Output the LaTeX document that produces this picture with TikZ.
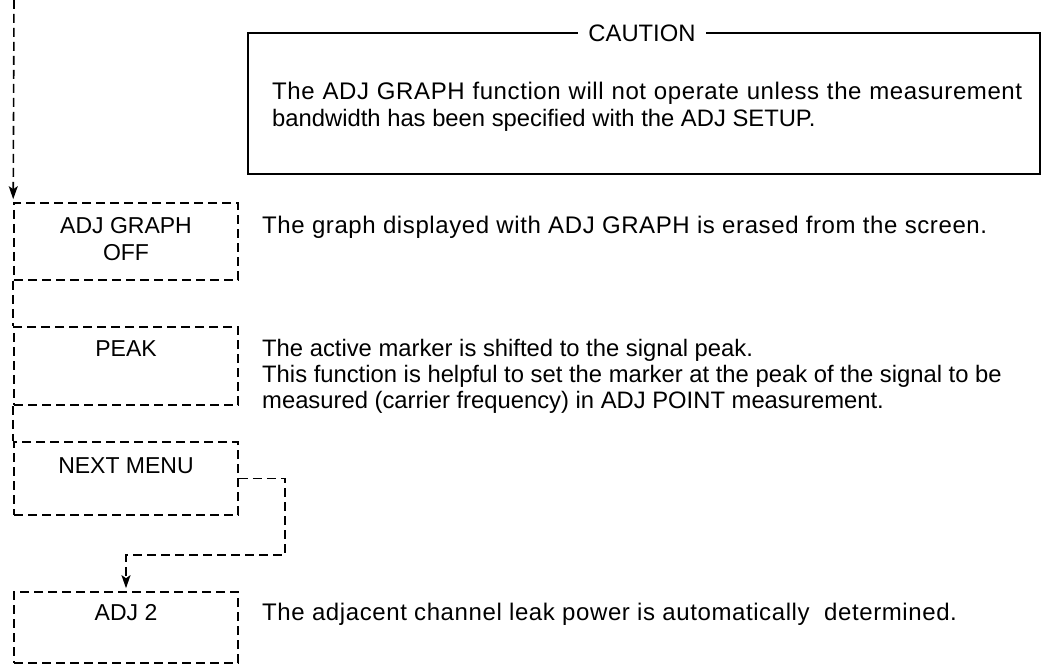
\documentclass[tikz,border=0pt]{standalone}
\usepackage{fontspec}
\setmainfont{Liberation Sans}
\newfontfamily\widefont[LetterSpace=2.5]{Liberation Sans}
\usetikzlibrary{arrows.meta}
\begin{document}
\begin{tikzpicture}[x=1pt,y=-1pt,
  fbox/.style={draw, dash pattern=on 9pt off 5pt, line width=1.6pt, minimum width=224pt, inner sep=0pt},
  cline/.style={draw, dash pattern=on 9pt off 5pt, line width=1.6pt},
  arr/.style={-{Stealth[length=13pt,width=9pt,inset=3pt]}},
  txt/.style={inner sep=0pt, font=\fontsize{23.8}{27}\selectfont},
  wtxt/.style={inner sep=0pt, font=\widefont\fontsize{24}{27}\selectfont},
  lbl/.style={inner sep=0pt, font=\fontsize{23}{27}\selectfont, align=center}]
\useasboundingbox (0,0) rectangle (1047,668);
% caution box
\draw[line width=1.6pt] (248,33) rectangle (1040,174);
\node[txt, fill=white, inner xsep=10pt, inner ysep=2pt] (caut) at (642,33) {CAUTION};
\node[wtxt, anchor=base west] (c1a) at (272,100)
  {\makebox[750pt][s]{The ADJ GRAPH function will not operate unless the measurement}};
\node[txt, anchor=base west] (c1b) at (272,127) {bandwidth has been specified with the ADJ SETUP.};
% boxes
\node[fbox, minimum height=77pt] (b1) at (126,241.5) {};
\node[fbox, minimum height=78pt] (b2) at (126,366) {};
\node[fbox, minimum height=73pt] (b3) at (126,478.5) {};
\node[fbox, minimum height=71pt] (b4) at (126,627.5) {};
% box labels
\node[lbl, anchor=base] (l1) at (126,261) {ADJ GRAPH\\OFF};
\node[lbl, anchor=base] (l2) at (126,356) {PEAK};
\node[lbl, anchor=base] (l3) at (126,473) {NEXT MENU};
\node[lbl, anchor=base] (l4) at (126,620) {ADJ 2};
% descriptions
\node[wtxt, anchor=base west] (d1) at (262,234) {The graph displayed with ADJ GRAPH is erased from the screen.};
\node[txt, anchor=base west] (d2a) at (262,356) {The active marker is shifted to the signal peak.};
\node[txt, anchor=base west] (d2b) at (262,382) {This function is helpful to set the marker at the peak of the signal to be};
\node[txt, anchor=base west] (d2c) at (262,408) {measured (carrier frequency) in ADJ POINT measurement.};
\node[wtxt, anchor=base west] (d4) at (262,620) {The adjacent channel leak power is automatically\ \ determined.};
% connectors
\coordinate (top) at (14,0);
\coordinate (c1) at (285,555);
\draw[cline, arr, shorten >=3pt] (top) -- (b1.north west);
\draw[cline] (b1.south west) -- (b2.north west);
\draw[cline] (b2.south west) -- (b3.north west);
\draw[cline, arr, shorten >=3pt] (b3.east) -| (c1) -| (b4.north);
\end{tikzpicture}
\end{document}
